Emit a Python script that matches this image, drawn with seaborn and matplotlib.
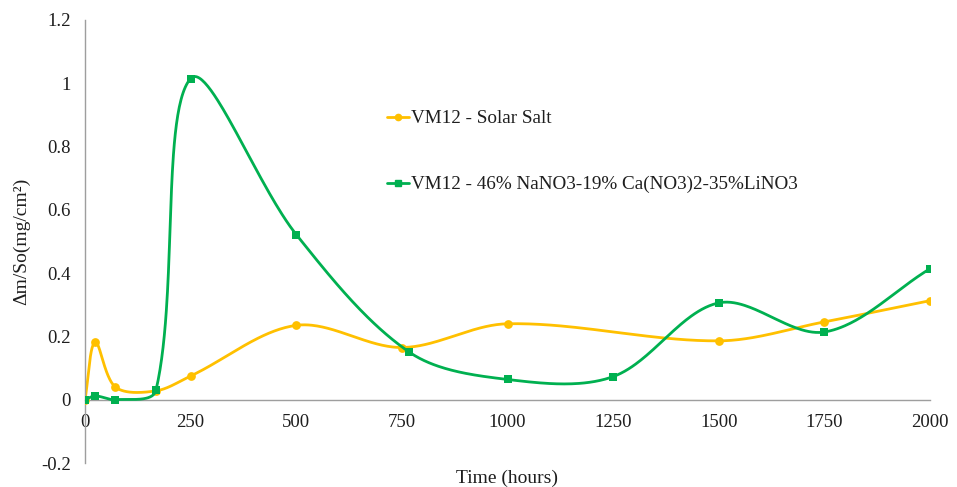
import numpy as np
import pandas as pd
import matplotlib
matplotlib.use("Agg")
import matplotlib.pyplot as plt
from matplotlib.lines import Line2D
import seaborn as sns

# ---------------- data ----------------
hours_solar = [0, 24, 72, 168, 250, 500, 750, 1000, 1500, 1750, 2000]
solar_salt = [0.0, 0.182, 0.040, 0.028, 0.075, 0.235, 0.165, 0.240, 0.186, 0.246, 0.313]

hours_ternary = [0, 24, 72, 168, 250, 500, 768, 1000, 1250, 1500, 1750, 2000]
ternary_salt = [0.0, 0.012, 0.0, 0.030, 1.015, 0.522, 0.150, 0.064, 0.073, 0.306, 0.214, 0.414]

label_solar = "VM12 - Solar Salt"
label_ternary = "VM12 - 46% NaNO3-19% Ca(NO3)2-35%LiNO3"
x_ticks = [0, 250, 500, 750, 1000, 1250, 1500, 1750, 2000]
y_ticks = [-0.2, 0, 0.2, 0.4, 0.6, 0.8, 1.0, 1.2]
y_tick_labels = ["-0.2", "0", "0.2", "0.4", "0.6", "0.8", "1", "1.2"]
x_label = "Time (hours)"
y_label = "\u0394m/So(mg/cm\u00b2)"

ORANGE = "#FFC000"
GREEN = "#00B050"
AXIS_GREY = "#9e9e9e"
TEXT = "#1e1e1e"

# ---------------- style ----------------
sns.set_theme(style="white")
plt.rcParams["font.family"] = ["Liberation Serif", "DejaVu Serif"]

fig = plt.figure(figsize=(9.57, 4.87), dpi=100)
ax = fig.add_axes([85 / 957, 1 - 463 / 487, 845 / 957, 443 / 487])
ax.set_xlim(0, 2000)
ax.set_ylim(-0.2, 1.2)


def smooth_curve(xs, ys, n=60):
    """Excel-like smoothed line (Bezier with proportional Catmull-Rom tangents),
    computed in display space and mapped back to data space."""
    P = ax.transData.transform(np.column_stack([xs, ys]))
    N = len(P)
    out = []
    t = np.linspace(0, 1, n)[:, None]
    for i in range(N - 1):
        p0 = P[i - 1] if i > 0 else P[i]
        p1, p2 = P[i], P[i + 1]
        p3 = P[i + 2] if i + 2 < N else P[i + 1]
        d01 = np.linalg.norm(p1 - p0)
        d12 = np.linalg.norm(p2 - p1)
        d23 = np.linalg.norm(p3 - p2)
        s1 = d12 / (d01 + d12) if (d01 + d12) > 0 else 0
        s2 = d12 / (d12 + d23) if (d12 + d23) > 0 else 0
        c1 = p1 + (p2 - p0) * s1 / 3
        c2 = p2 - (p3 - p1) * s2 / 3
        seg = ((1 - t) ** 3) * p1 + 3 * ((1 - t) ** 2) * t * c1 + 3 * (1 - t) * t ** 2 * c2 + t ** 3 * p2
        out.append(seg if i == 0 else seg[1:])
    pts = np.vstack(out)
    data = ax.transData.inverted().transform(pts)
    return data[:, 0], data[:, 1]


lw = 2.0
ms = 6.3

# Solar salt
sx, sy = smooth_curve(hours_solar, solar_salt)
sns.lineplot(x=sx, y=sy, sort=False, estimator=None, color=ORANGE, lw=lw, ax=ax, zorder=2)
sns.scatterplot(x=hours_solar, y=solar_salt, marker="o", s=ms ** 2, color=ORANGE,
                linewidth=0, ax=ax, zorder=3)

# Ternary salt
tx, ty = smooth_curve(hours_ternary, ternary_salt)
sns.lineplot(x=tx, y=ty, sort=False, estimator=None, color=GREEN, lw=lw, ax=ax, zorder=4)
sns.scatterplot(x=hours_ternary, y=ternary_salt, marker="s", s=(ms * 0.95) ** 2, color=GREEN,
                linewidth=0, ax=ax, zorder=5)

# ---------------- axes ----------------
for side in ["top", "right"]:
    ax.spines[side].set_visible(False)
ax.spines["bottom"].set_position(("data", 0))
ax.spines["left"].set_position(("data", 0))
for side in ["bottom", "left"]:
    ax.spines[side].set_color(AXIS_GREY)
    ax.spines[side].set_linewidth(1.0)

ax.set_xticks(x_ticks)
ax.set_xticklabels([str(v) for v in x_ticks])
ax.set_yticks(y_ticks)
ax.set_yticklabels(y_tick_labels)
ax.tick_params(axis="both", which="major", direction="out", length=5, width=1.0,
               color=AXIS_GREY, labelsize=13.5, labelcolor=TEXT)
ax.tick_params(axis="x", pad=5)
ax.tick_params(axis="y", pad=5)
ax.grid(False)

ax.set_xlabel(x_label, fontsize=14, color=TEXT)
ax.xaxis.set_label_coords(0.5, -0.015)
ax.xaxis.label.set_va("top")
ax.set_ylabel(y_label, fontsize=14, color=TEXT)
ax.yaxis.set_label_coords(-0.065, 0.5)

# ---------------- legend ----------------
handles = [
    Line2D([], [], color=ORANGE, lw=lw, marker="o", markersize=4.5),
    Line2D([], [], color=GREEN, lw=lw, marker="s", markersize=4.2),
]
leg = fig.legend(handles, [label_solar, label_ternary], loc="upper left",
                 bbox_to_anchor=(387 / 957, 1 - 110 / 487), frameon=False,
                 fontsize=13.75, handlelength=1.15, handletextpad=0.1,
                 labelspacing=2.55, borderaxespad=0, borderpad=0)
for txt in leg.get_texts():
    txt.set_color(TEXT)

fig.savefig("out.png", dpi=100)
